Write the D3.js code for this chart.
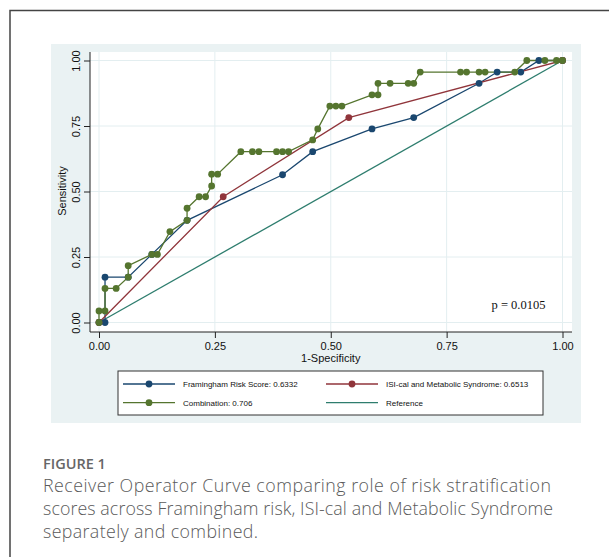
<!DOCTYPE html>
<html>
<head>
<meta charset="utf-8">
<script src="https://cdn.jsdelivr.net/npm/d3@7"></script>
<style>
  html, body { margin: 0; padding: 0; background: #fff; }
  svg { display: block; }
</style>
</head>
<body>
<div id="chart"></div>
<script>
// ROC 曲線資料
const framX = [0, 0.013, 0.013, 0.063, 0.114, 0.19, 0.396, 0.461, 0.589, 0.679, 0.82, 0.859, 0.91, 0.949, 1];
const framY = [0, 0, 0.173, 0.173, 0.26, 0.39, 0.564, 0.652, 0.739, 0.782, 0.913, 0.956, 0.956, 1, 1];

const isiX = [0, 0.268, 0.539, 1];
const isiY = [0, 0.48, 0.782, 1];

const combX = [0, 0, 0.013, 0.013, 0.037, 0.063, 0.063, 0.114, 0.126, 0.153,
  0.19, 0.19, 0.216, 0.23, 0.243, 0.243, 0.256, 0.306, 0.331, 0.345,
  0.383, 0.396, 0.409, 0.461, 0.472, 0.498, 0.511, 0.524, 0.589, 0.602,
  0.602, 0.628, 0.667, 0.679, 0.693, 0.78, 0.793, 0.82, 0.833, 0.897,
  0.923, 0.962, 0.987, 1];
const combY = [0, 0.044, 0.044, 0.13, 0.13, 0.173, 0.217, 0.26, 0.26, 0.347,
  0.39, 0.436, 0.48, 0.48, 0.521, 0.566, 0.566, 0.652, 0.652, 0.652,
  0.652, 0.652, 0.652, 0.697, 0.739, 0.826, 0.826, 0.826, 0.869, 0.869,
  0.913, 0.913, 0.913, 0.913, 0.956, 0.956, 0.956, 0.956, 0.956, 0.956,
  1, 1, 1, 1];

const refX = [0, 1];
const refY = [0, 1];

const xTicks = [0, 0.25, 0.5, 0.75, 1];
const yTicks = [0, 0.25, 0.5, 0.75, 1];

const legendLabels = [
  "Framingham Risk Score: 0.6332",
  "ISI-cal and Metabolic Syndrome: 0.6513",
  "Combination: 0.706",
  "Reference",
];
const pValueText = "p = 0.0105";
const figureLabel = "FIGURE 1";
const captionLines = [
  "Receiver Operator Curve comparing role of risk stratification",
  "scores across Framingham risk, ISI-cal and Metabolic Syndrome",
  "separately and combined.",
];

const width = 609;
const height = 557;
const axisFont = "Arial, 'Liberation Sans', sans-serif";

const svg = d3
  .select("#chart")
  .append("svg")
  .attr("width", width)
  .attr("height", height);

// 外框
svg.append("path")
  .attr("d", `M10,${height} L10,10.5 L${width},10.5`)
  .attr("fill", "none")
  .attr("stroke", "#444")
  .attr("stroke-width", 1.5);

// Stata 圖形背景
svg.append("rect")
  .attr("x", 51).attr("y", 44)
  .attr("width", 530).attr("height", 379)
  .attr("fill", "#eaf2f3");

svg.append("rect")
  .attr("x", 90).attr("y", 52)
  .attr("width", 482).attr("height", 280)
  .attr("fill", "#fff");

const x = d3.scaleLinear().domain([0, 1]).range([99, 562.5]);
const y = d3.scaleLinear().domain([0, 1]).range([322.5, 60.5]);

// 格線
const grid = svg.append("g").attr("stroke", "#e3eef0").attr("stroke-width", 1);
xTicks.forEach((t) => {
  grid.append("line")
    .attr("x1", x(t)).attr("x2", x(t))
    .attr("y1", 52).attr("y2", 332);
});
yTicks.forEach((t) => {
  grid.append("line")
    .attr("x1", 90).attr("x2", 572)
    .attr("y1", y(t)).attr("y2", y(t));
});

// 座標軸
const yAxis = svg.append("g")
  .attr("transform", "translate(90,0)")
  .call(d3.axisLeft(y).tickValues(yTicks).tickFormat(d3.format(".2f")).tickSize(6));
yAxis.select(".domain").remove();
yAxis.selectAll("line").attr("stroke", "#222");
yAxis.selectAll("text")
  .attr("transform", "rotate(-90)")
  .attr("x", 0)
  .attr("y", -10.5)
  .attr("dy", 0)
  .style("text-anchor", "middle")
  .style("font-family", axisFont)
  .style("font-size", "11px")
  .attr("fill", "#111");

const xAxis = svg.append("g")
  .attr("transform", "translate(0,332)")
  .call(d3.axisBottom(x).tickValues(xTicks).tickFormat(d3.format(".2f")).tickSize(6));
xAxis.select(".domain").remove();
xAxis.selectAll("line").attr("stroke", "#222");
xAxis.selectAll("text")
  .attr("y", 18)
  .attr("dy", 0)
  .style("font-family", axisFont)
  .style("font-size", "11px")
  .attr("fill", "#111");

svg.append("line")
  .attr("x1", 90).attr("x2", 90).attr("y1", 52).attr("y2", 332)
  .attr("stroke", "#222");
svg.append("line")
  .attr("x1", 90).attr("x2", 572).attr("y1", 332).attr("y2", 332)
  .attr("stroke", "#222");

svg.append("text")
  .attr("x", x(0.5)).attr("y", 361.5)
  .attr("text-anchor", "middle")
  .style("font-family", axisFont)
  .style("font-size", "11px")
  .attr("fill", "#111")
  .text("1-Specificity");

svg.append("text")
  .attr("transform", "translate(66,191) rotate(-90)")
  .attr("text-anchor", "middle")
  .style("font-family", axisFont)
  .style("font-size", "11px")
  .attr("fill", "#111")
  .text("Sensitivity");

// 曲線
const series = [
  { xs: framX, ys: framY, color: "#1a476f" },
  { xs: isiX, ys: isiY, color: "#90353b" },
  { xs: combX, ys: combY, color: "#55752f" },
];

const lineGenerator = d3.line().x((d) => x(d[0])).y((d) => y(d[1]));

svg.append("path")
  .datum(refX.map((v, i) => [v, refY[i]]))
  .attr("fill", "none")
  .attr("stroke", "#2e7d6e")
  .attr("stroke-width", 1.3)
  .attr("d", lineGenerator);

series.forEach((s) => {
  svg.append("path")
    .datum(s.xs.map((v, i) => [v, s.ys[i]]))
    .attr("fill", "none")
    .attr("stroke", s.color)
    .attr("stroke-width", 1.3)
    .attr("d", lineGenerator);
});

series.forEach((s) => {
  svg.append("g")
    .selectAll("circle")
    .data(s.xs.map((v, i) => [v, s.ys[i]]))
    .enter()
    .append("circle")
    .attr("cx", (d) => x(d[0]))
    .attr("cy", (d) => y(d[1]))
    .attr("r", 3.4)
    .attr("fill", s.color);
});

svg.append("text")
  .attr("x", 491.5).attr("y", 308.5)
  .style("font-family", "'Liberation Serif', 'Times New Roman', serif")
  .style("font-size", "12.5px")
  .attr("fill", "#111")
  .text(pValueText);

// 圖例
svg.append("rect")
  .attr("x", 118).attr("y", 371)
  .attr("width", 425).attr("height", 44)
  .attr("fill", "#fff")
  .attr("stroke", "#333")
  .attr("stroke-width", 1);

const legendItems = [
  { label: legendLabels[0], color: "#1a476f", marker: true, lx: 123, ly: 384 },
  { label: legendLabels[1], color: "#90353b", marker: true, lx: 326, ly: 384 },
  { label: legendLabels[2], color: "#55752f", marker: true, lx: 123, ly: 402.7 },
  { label: legendLabels[3], color: "#2e7d6e", marker: false, lx: 326, ly: 402.7 },
];

legendItems.forEach((d) => {
  svg.append("line")
    .attr("x1", d.lx).attr("x2", d.lx + 52)
    .attr("y1", d.ly).attr("y2", d.ly)
    .attr("stroke", d.color)
    .attr("stroke-width", 1.3);
  if (d.marker) {
    svg.append("circle")
      .attr("cx", d.lx + 26).attr("cy", d.ly)
      .attr("r", 3.4)
      .attr("fill", d.color);
  }
  svg.append("text")
    .attr("x", d.lx + 60).attr("y", d.ly + 2.8)
    .style("font-family", axisFont)
    .style("font-size", "8px")
    .attr("fill", "#111")
    .text(d.label);
});

// 圖說
svg.append("text")
  .attr("x", 43).attr("y", 469)
  .style("font-family", "'Open Sans', Lato, sans-serif")
  .style("font-size", "14.5px")
  .style("font-weight", 600)
  .attr("fill", "#666")
  .text(figureLabel);

const captionWidths = [508, 510, 215];
captionLines.forEach((line, i) => {
  svg.append("text")
    .attr("x", 43).attr("y", 492 + i * 23)
    .attr("textLength", captionWidths[i])
    .attr("lengthAdjust", "spacing")
    .style("font-family", "'Open Sans', Lato, sans-serif")
    .style("font-size", "17.8px")
    .style("font-weight", 300)
    .attr("fill", "#5a5a5a")
    .text(line);
});
</script>
</body>
</html>
